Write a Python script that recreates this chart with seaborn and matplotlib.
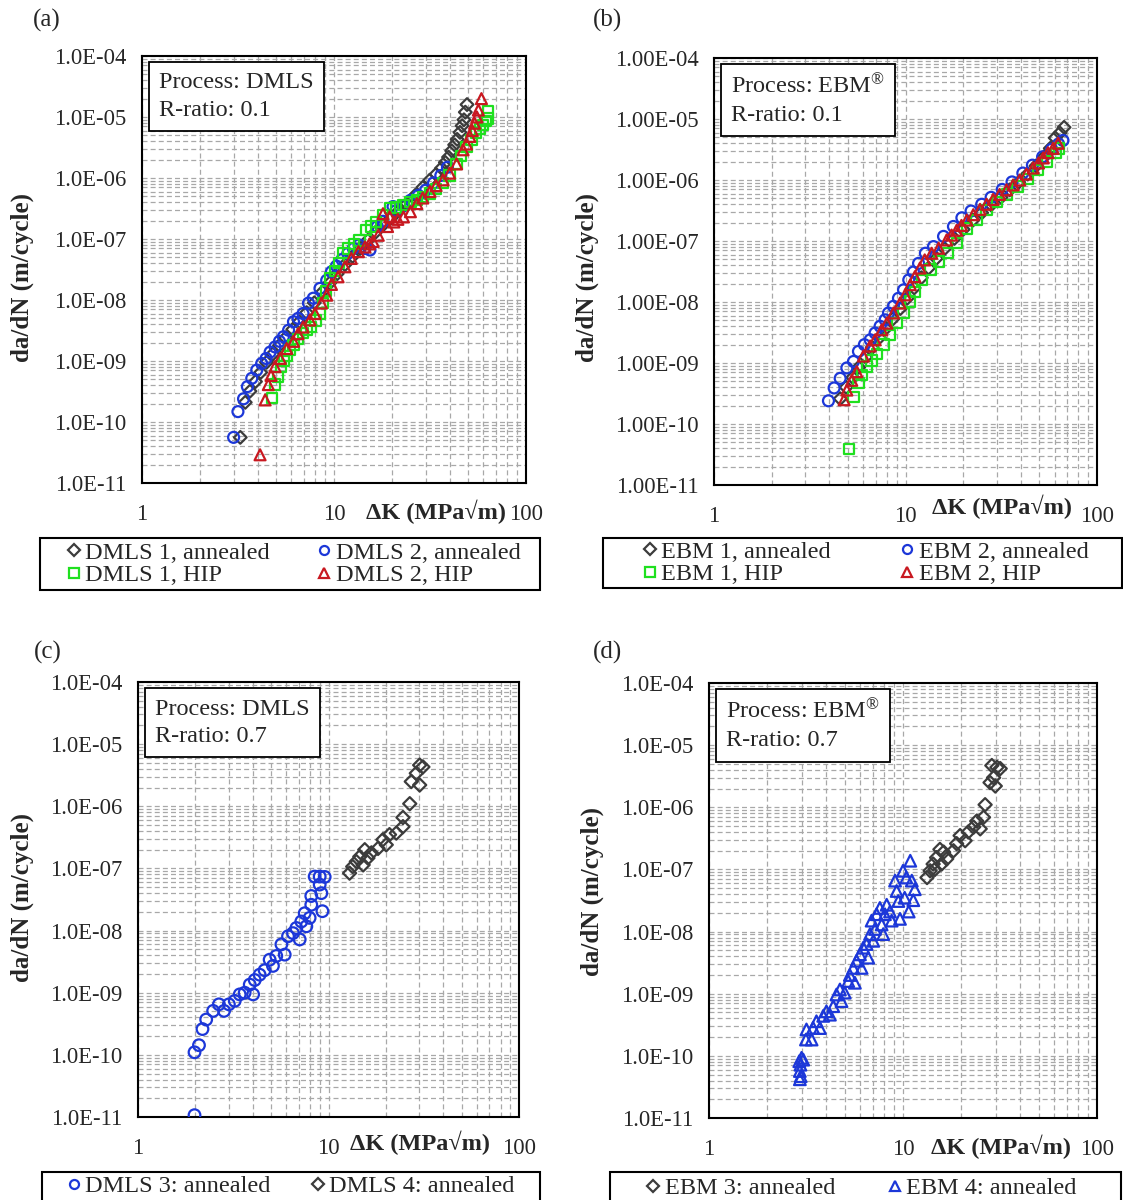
import numpy as np
import matplotlib
matplotlib.use("Agg")
import matplotlib.pyplot as plt
from matplotlib.lines import Line2D
from matplotlib.patches import Rectangle
from matplotlib.ticker import FixedLocator, FixedFormatter, LogLocator, NullFormatter
import seaborn as sns

# ---------------- data ----------------
# Panel (a): DMLS, R = 0.1
dmls1_ann_K = [3.25, 3.45, 3.65, 3.9, 4.15, 4.45, 4.8, 5.2, 5.6, 6.1, 6.6, 7.2, 7.9, 8.7, 9.5, 10.4, 11.4,
               12.5, 13.7, 15.0, 16.5, 18.0, 19.8, 21.8, 24, 26.5, 29, 31.5, 34, 36.3, 38, 39.5, 41, 42.5,
               43.8, 45.3, 46.5, 47.5, 48.3, 49.3]
dmls1_ann_da = [5.6e-11, 2.1e-10, 3.2e-10, 4.6e-10, 6.5e-10, 9.5e-10, 1.3e-9, 1.8e-9, 2.4e-9, 3.3e-9, 4.4e-9,
                6.2e-9, 9e-9, 1.35e-8, 1.9e-8, 2.7e-8, 3.8e-8, 5.2e-8, 7.0e-8, 9.5e-8, 1.3e-7, 1.7e-7, 2.2e-7,
                2.9e-7, 3.8e-7, 5.2e-7, 7e-7, 9.2e-7, 1.15e-6, 1.45e-6, 1.8e-6, 2.2e-6, 2.8e-6, 3.5e-6, 4.3e-6,
                5.6e-6, 7.2e-6, 9.0e-6, 1.2e-5, 1.6e-5]
dmls2_ann_K = [3.0, 3.16, 3.38, 3.54, 3.73, 3.96, 4.2, 4.43, 4.65, 4.93, 5.2, 5.45, 5.8, 6.15, 6.5, 6.9, 7.36,
               7.8, 8.45, 9.16, 9.7, 10.3, 11.0, 11.8, 12.6, 13.5, 14.5, 15.4, 16.8, 18.0, 20.3, 21, 23, 25,
               27.5, 30, 33, 36, 39]
dmls2_ann_da = [5.6e-11, 1.48e-10, 2.4e-10, 3.8e-10, 5.2e-10, 7.1e-10, 9.1e-10, 1.1e-9, 1.4e-9, 1.7e-9, 2.1e-9,
                2.5e-9, 3.2e-9, 4.4e-9, 5.0e-9, 6.0e-9, 8.9e-9, 1.07e-8, 1.55e-8, 2.1e-8, 2.9e-8, 3.6e-8,
                4.6e-8, 5.8e-8, 7.0e-8, 8.0e-8, 7.0e-8, 6.6e-8, 1.6e-7, 1.95e-7, 3.4e-7, 2.9e-7, 3.5e-7,
                4.3e-7, 5.2e-7, 6.3e-7, 8.3e-7, 1.1e-6, 1.5e-6]
dmls1_hip_K = [4.74, 4.93, 5.1, 5.3, 5.5, 5.67, 5.9, 6.15, 6.5, 6.9, 7.2, 7.6, 8.0, 8.46, 8.8, 9.1, 9.5, 10.1,
               10.6, 11.2, 11.9, 12.7, 13.6, 14.7, 15.6, 16.6, 18.0, 19.5, 21, 23, 25, 27, 29, 31.6, 34, 37,
               40, 43.5, 46, 49, 52, 55, 57.5, 59.6, 61.5, 63, 63.5]
dmls1_hip_da = [2.45e-10, 4.1e-10, 5.5e-10, 8.1e-10, 1.0e-9, 1.2e-9, 1.5e-9, 1.85e-9, 2.3e-9, 2.9e-9, 3.2e-9,
                3.6e-9, 4.6e-9, 6.0e-9, 9e-9, 1.4e-8, 2.3e-8, 3.0e-8, 4.0e-8, 5.9e-8, 7.0e-8, 8.2e-8, 9.5e-8,
                1.4e-7, 1.6e-7, 1.9e-7, 2.5e-7, 3.2e-7, 3.3e-7, 3.6e-7, 4.0e-7, 4.4e-7, 4.9e-7, 5.6e-7, 6.6e-7,
                8.2e-7, 1.1e-6, 1.7e-6, 2.3e-6, 3.2e-6, 4.2e-6, 5.4e-6, 6.4e-6, 7.4e-6, 8.5e-6, 9.5e-6, 1.23e-5]
dmls2_hip_K = [4.12, 4.38, 4.55, 4.7, 4.93, 5.25, 5.67, 6.15, 6.5, 6.9, 7.5, 7.96, 8.6, 9.16, 9.7, 10.5, 11.4,
               12.3, 13.4, 14.5, 15.3, 16.0, 17.0, 18.0, 19.0, 19.5, 20.5, 21.5, 23, 25, 27, 29, 31.6, 34, 37,
               40, 43.5, 47, 49, 51, 52.5, 54, 55.5, 56.5, 58.6]
dmls2_hip_da = [2.9e-11, 2.3e-10, 4.1e-10, 5.8e-10, 8.1e-10, 1.1e-9, 1.6e-9, 2.1e-9, 2.8e-9, 3.6e-9, 4.7e-9,
                6e-9, 8.9e-9, 1.2e-8, 1.8e-8, 2.4e-8, 3.5e-8, 4.8e-8, 6.2e-8, 7.4e-8, 8.3e-8, 9.1e-8, 1.15e-7,
                2.6e-7, 1.6e-7, 2.3e-7, 1.9e-7, 2.1e-7, 2.3e-7, 2.8e-7, 3.8e-7, 4.7e-7, 6e-7, 7.5e-7, 9.3e-7,
                1.2e-6, 1.7e-6, 2.9e-6, 3.6e-6, 4.8e-6, 6.0e-6, 7.9e-6, 1.0e-5, 1.3e-5, 2.0e-5]

# Panel (b): EBM, R = 0.1
ebm1_ann_K = [4.56, 4.9, 5.3, 5.7, 6.2, 6.7, 7.3, 7.9, 8.6, 9.4, 10.2, 11.1, 12.1, 13.2, 14.5, 16, 18, 20, 22.5,
              25, 28, 31.5, 35, 39, 43.5, 48, 53, 57, 60.5, 64, 67.3]
ebm1_ann_da = [2.6e-10, 4.0e-10, 5.8e-10, 8.5e-10, 1.25e-9, 1.8e-9, 2.6e-9, 3.7e-9, 5.3e-9, 7.8e-9, 1.15e-8,
               1.7e-8, 2.5e-8, 3.6e-8, 5.2e-8, 7.5e-8, 1.1e-7, 1.55e-7, 2.2e-7, 2.9e-7, 3.9e-7, 5.2e-7, 6.9e-7,
               9.2e-7, 1.25e-6, 1.7e-6, 2.4e-6, 3.3e-6, 4.9e-6, 5.9e-6, 7.3e-6]
ebm2_ann_K = [3.96, 4.24, 4.56, 4.94, 5.35, 5.68, 6.1, 6.54, 6.94, 7.37, 7.83, 8.15, 8.65, 9.19, 9.77, 10.4,
              11.0, 11.7, 12.7, 14.0, 15.8, 17.8, 19.7, 22, 25, 28, 32, 36, 41, 46, 52, 58, 63, 66.4]
ebm2_ann_da = [2.4e-10, 3.9e-10, 5.6e-10, 8.3e-10, 1.06e-9, 1.55e-9, 2.0e-9, 2.4e-9, 3.1e-9, 4.0e-9, 5.1e-9,
               6.6e-9, 8.5e-9, 1.15e-8, 1.58e-8, 2.3e-8, 3.1e-8, 4.3e-8, 6.3e-8, 8.1e-8, 1.19e-7, 1.73e-7,
               2.4e-7, 3.1e-7, 4.0e-7, 5.2e-7, 7.0e-7, 9.3e-7, 1.3e-6, 1.75e-6, 2.4e-6, 3.2e-6, 3.9e-6, 4.45e-6]
ebm1_hip_K = [5.08, 5.35, 5.68, 5.91, 6.27, 6.65, 7.07, 7.68, 8.31, 9.0, 9.77, 10.6, 11.2, 12.2, 13.5, 14.9,
              16.7, 18.5, 20.9, 23.5, 26.5, 30, 34, 38.5, 43.5, 49, 55, 61, 63.5]
ebm1_hip_da = [3.9e-11, 2.8e-10, 4.7e-10, 6.4e-10, 8.8e-10, 1.1e-9, 1.4e-9, 2.0e-9, 2.9e-9, 4.5e-9, 6.6e-9,
               1.02e-8, 1.47e-8, 2.3e-8, 3.4e-8, 4.6e-8, 6.3e-8, 9.3e-8, 1.6e-7, 2.2e-7, 3.2e-7, 4.4e-7,
               5.8e-7, 7.8e-7, 1.05e-6, 1.45e-6, 2.0e-6, 2.8e-6, 3.3e-6]
ebm2_hip_K = [4.78, 4.94, 5.24, 5.57, 6.03, 6.53, 6.94, 7.52, 7.99, 8.65, 9.36, 9.96, 10.6, 11.2, 11.9, 12.6,
              13.7, 14.9, 16.4, 17.4, 18.5, 19.6, 20.9, 22.6, 24.5, 26.5, 28.7, 31.0, 33.7, 36.5, 39.5, 42.8,
              46.4, 49.5, 52.4, 55.5, 59.0, 62.7]
ebm2_hip_da = [2.5e-10, 3.6e-10, 5.2e-10, 7.2e-10, 1.3e-9, 1.9e-9, 2.4e-9, 3.5e-9, 4.5e-9, 6.6e-9, 9.6e-9,
               1.31e-8, 1.92e-8, 2.6e-8, 3.6e-8, 4.9e-8, 6.3e-8, 7.6e-8, 1.04e-7, 1.25e-7, 1.5e-7, 1.8e-7,
               2.2e-7, 2.7e-7, 3.3e-7, 4.0e-7, 4.8e-7, 5.8e-7, 6.9e-7, 8.3e-7, 1.0e-6, 1.25e-6, 1.57e-6,
               1.9e-6, 2.3e-6, 2.8e-6, 3.3e-6, 4.0e-6]

# Panel (c): DMLS, R = 0.7
dmls3_K = [1.98, 1.98, 2.09, 2.18, 2.28, 2.48, 2.66, 2.83, 3.0, 3.22, 3.42, 3.63, 3.86, 4.02, 4.1, 4.35, 4.62,
           4.91, 5.11, 5.32, 5.66, 5.89, 6.13, 6.51, 6.78, 7.06, 7.2, 7.5, 7.65, 7.96, 8.12, 8.12, 8.46, 8.99,
           9.17, 9.29, 8.99, 9.55]
dmls3_da = [1.07e-11, 1.1e-10, 1.43e-10, 2.6e-10, 3.7e-10, 5.1e-10, 6.5e-10, 5.1e-10, 6.5e-10, 7.4e-10, 9.4e-10,
            1e-9, 1.35e-9, 9.4e-10, 1.6e-9, 1.95e-9, 2.3e-9, 3.4e-9, 2.7e-9, 3.9e-9, 6e-9, 4.1e-9, 8.1e-9,
            9.1e-9, 1.1e-8, 7.2e-9, 1.4e-8, 1.9e-8, 1.17e-8, 1.6e-8, 2.6e-8, 3.6e-8, 7.4e-8, 5.5e-8, 4e-8,
            2.05e-8, 7.4e-8, 7.3e-8]
dmls4_K = [12.9, 13.4, 14.0, 14.6, 15.2, 15.5, 16.1, 16.8, 18.2, 19.3, 20.1, 20.9, 22.7, 24.6, 24.6, 26.7, 27.2,
           28.9, 30.1, 31.3, 30.1]
dmls4_da = [8.4e-8, 1.07e-7, 1.29e-7, 1.55e-7, 1.14e-7, 2e-7, 1.47e-7, 1.78e-7, 2.1e-7, 2.9e-7, 2.4e-7, 3.5e-7,
            3.7e-7, 4.7e-7, 6.6e-7, 1.1e-6, 2.5e-6, 3.4e-6, 2.2e-6, 4.3e-6, 4.6e-6]

# Panel (d): EBM, R = 0.7
ebm3_K = [13.3, 13.8, 14.3, 14.9, 15.5, 14.6, 15.8, 16.2, 16.8, 18.2, 18.9, 19.7, 20.9, 21.7, 23.1, 24, 25, 26,
          26.5, 28.1, 29.3, 29.9, 30.5, 31.7, 28.7]
ebm3_da = [7.4e-8, 9.5e-8, 1.22e-7, 1.55e-7, 2.1e-7, 1.0e-7, 1.22e-7, 1.9e-7, 1.48e-7, 2e-7, 2.6e-7, 3.5e-7,
           2.9e-7, 4e-7, 4.8e-7, 6e-7, 4.5e-7, 6.9e-7, 1.1e-6, 2.5e-6, 3e-6, 2.2e-6, 4.4e-6, 4.2e-6, 4.7e-6]
ebm4_K = [2.94, 2.94, 2.96, 3.0, 2.92, 3.06, 2.97, 3.16, 3.18, 3.38, 3.44, 3.58, 3.73, 3.88, 4.03, 4.2, 4.37,
          4.54, 4.73, 4.82, 5.01, 5.22, 5.32, 5.54, 5.65, 5.76, 6.0, 6.12, 6.24, 6.49, 6.62, 6.76, 6.89, 7.03,
          7.17, 7.31, 7.6, 7.76, 7.91, 8.07, 8.24, 8.57, 8.74, 9.1, 9.27, 9.46, 9.65, 10.0, 10.2, 10.4, 10.9,
          11.1, 11.3, 11.5, 10.7]
ebm4_da = [4.2e-11, 5.7e-11, 7.2e-11, 9.3e-11, 8.2e-11, 8.7e-11, 4.7e-11, 1.83e-10, 2.66e-10, 1.83e-10, 2.83e-10,
           3.6e-10, 2.8e-10, 4.4e-10, 5.2e-10, 4.6e-10, 6.3e-10, 9.7e-10, 1.17e-9, 7.6e-10, 1.04e-9, 1.6e-9,
           2.0e-9, 2.6e-9, 1.5e-9, 3.4e-9, 4.3e-9, 2.6e-9, 5.5e-9, 6.3e-9, 3.8e-9, 9.1e-9, 1.5e-8, 7.1e-9,
           1.1e-8, 1.9e-8, 2.4e-8, 1.3e-8, 9.1e-9, 1.9e-8, 2.7e-8, 2.1e-8, 1.5e-8, 6.6e-8, 4.5e-8, 3.1e-8,
           1.6e-8, 9.5e-8, 3.5e-8, 7.4e-8, 1.38e-7, 6.6e-8, 3.2e-8, 4.8e-8, 2.1e-8]

x_ticks = [1, 10, 100]
x_tick_labels = ["1", "10", "100"]
y_ticks = [1e-11, 1e-10, 1e-9, 1e-8, 1e-7, 1e-6, 1e-5, 1e-4]
y_labels_short = ["1.0E-11", "1.0E-10", "1.0E-09", "1.0E-08", "1.0E-07", "1.0E-06", "1.0E-05", "1.0E-04"]
y_labels_long = ["1.00E-11", "1.00E-10", "1.00E-09", "1.00E-08", "1.00E-07", "1.00E-06", "1.00E-05", "1.00E-04"]

# ---------------- styling ----------------
sns.set_style("white")
plt.rcParams["font.family"] = ["Liberation Serif", "DejaVu Serif"]
plt.rcParams["mathtext.fontset"] = "custom"
plt.rcParams["mathtext.rm"] = "Liberation Serif"
plt.rcParams["mathtext.it"] = "Liberation Serif"

C_BLACK = "#3c3c3c"
C_BLUE = "#1c37d8"
C_GREEN = "#1fe01f"
C_RED = "#c81820"

W, H = 1123, 1200
fig = plt.figure(figsize=(W / 100, H / 100), dpi=100)


def add_ax(l, t, r, b):
    return fig.add_axes([l / W, 1 - b / H, (r - l) / W, (b - t) / H])


TICK_FS = 16.3
LBL_FS = 18
XLBL_FS = 17.5
LEG_FS = 17.5


def style_axes(ax, ylabels):
    ax.set_xscale("log")
    ax.set_yscale("log")
    ax.set_xlim(1, 100)
    ax.set_ylim(1e-11, 1e-4)
    ax.xaxis.set_major_locator(FixedLocator(x_ticks))
    ax.xaxis.set_major_formatter(FixedFormatter(x_tick_labels))
    ax.yaxis.set_major_locator(FixedLocator(y_ticks))
    ax.yaxis.set_major_formatter(FixedFormatter(ylabels))
    ax.xaxis.set_minor_locator(LogLocator(base=10, subs=np.arange(2, 10), numticks=50))
    ax.yaxis.set_minor_locator(LogLocator(base=10, subs=np.arange(2, 10), numticks=50))
    ax.xaxis.set_minor_formatter(NullFormatter())
    ax.yaxis.set_minor_formatter(NullFormatter())
    ax.grid(True, which="both", linestyle=(0, (4, 2.5)), color="#a8a8a8", linewidth=0.9)
    ax.set_axisbelow(True)
    ax.tick_params(which="major", direction="out", length=8, width=1.3, labelsize=TICK_FS, pad=3,
                   color="black")
    ax.tick_params(which="minor", direction="in", length=5, width=1.0, color="black")
    ax.tick_params(axis="x", which="major", pad=7)
    for s in ax.spines.values():
        s.set_linewidth(1.5)
        s.set_color("black")
    ax.set_xlabel("")
    ax.set_ylabel("")


def scatter(ax, K, da, color, marker, size=62):
    sns.scatterplot(x=K, y=da, ax=ax, marker=marker, s=size, facecolor="none", edgecolor=color,
                    linewidth=1.6, legend=False, zorder=3)


def info_box(ax, txt):
    ax.text(0.044, 0.962, txt, transform=ax.transAxes, ha="left", va="top", fontsize=LEG_FS,
            linespacing=1.42, zorder=5,
            bbox=dict(boxstyle="square,pad=0.42", facecolor="white", edgecolor="black", linewidth=1.3))


def legend_box(l, t, r, b, handles, labels, cx, cy, ncol, colspace):
    fig.patches.append(Rectangle((l / W, 1 - b / H), (r - l) / W, (b - t) / H, transform=fig.transFigure,
                                 facecolor="white", edgecolor="black", linewidth=1.5))
    fig.legend(handles, labels, loc="center", bbox_to_anchor=(cx / W, 1 - cy / H), ncol=ncol,
               frameon=False, fontsize=LEG_FS, handlelength=0.5, handletextpad=0.22,
               columnspacing=colspace, labelspacing=0.02, borderpad=0.0)


def h(marker, color):
    return Line2D([], [], linestyle="none", marker=marker, markersize=6.5, markerfacecolor="none",
                  markeredgecolor=color, markeredgewidth=1.6)


# ---------------- panel (a) ----------------
ax_a = add_ax(142, 56, 526, 483)
style_axes(ax_a, y_labels_short)
scatter(ax_a, dmls1_ann_K, dmls1_ann_da, C_BLACK, "D", 42)
scatter(ax_a, dmls2_ann_K, dmls2_ann_da, C_BLUE, "o")
scatter(ax_a, dmls1_hip_K, dmls1_hip_da, C_GREEN, "s", 55)
scatter(ax_a, dmls2_hip_K, dmls2_hip_da, C_RED, "^")
info_box(ax_a, "Process: DMLS\nR-ratio: 0.1")

# ---------------- panel (b) ----------------
ax_b = add_ax(714, 58, 1097, 485)
style_axes(ax_b, y_labels_long)
scatter(ax_b, ebm1_ann_K, ebm1_ann_da, C_BLACK, "D", 42)
scatter(ax_b, ebm2_ann_K, ebm2_ann_da, C_BLUE, "o")
scatter(ax_b, ebm1_hip_K, ebm1_hip_da, C_GREEN, "s", 55)
scatter(ax_b, ebm2_hip_K, ebm2_hip_da, C_RED, "^")
info_box(ax_b, "Process: EBM$^{\\mathrm{®}}$\nR-ratio: 0.1")

# ---------------- panel (c) ----------------
ax_c = add_ax(138, 682, 519, 1117)
style_axes(ax_c, y_labels_short)
scatter(ax_c, dmls3_K, dmls3_da, C_BLUE, "o", 70)
scatter(ax_c, dmls4_K, dmls4_da, C_BLACK, "D", 45)
info_box(ax_c, "Process: DMLS\nR-ratio: 0.7")

# ---------------- panel (d) ----------------
ax_d = add_ax(709, 683, 1097, 1118)
style_axes(ax_d, y_labels_short)
scatter(ax_d, ebm3_K, ebm3_da, C_BLACK, "D", 45)
scatter(ax_d, ebm4_K, ebm4_da, C_BLUE, "^", 70)
info_box(ax_d, "Process: EBM$^{\\mathrm{®}}$\nR-ratio: 0.7")

# ---------------- labels ----------------
for (x, y, t) in [(47, 20, "(a)"), (607, 20, "(b)"), (48, 652, "(c)"), (608, 652, "(d)")]:
    fig.text(x / W, 1 - y / H, t, ha="center", va="center", fontsize=18)

ylab = "da/dN (m/cycle)"
for (x, y) in [(22, 278), (587, 278), (22, 898), (592, 892)]:
    fig.text(x / W, 1 - y / H, ylab, rotation=90, ha="center", va="center", fontsize=LBL_FS,
             fontweight="bold")

xlab = "ΔK (MPa√m)"
for (x, y) in [(436, 512), (1002, 507), (420, 1143), (1001, 1147)]:
    fig.text(x / W, 1 - y / H, xlab, ha="center", va="center", fontsize=XLBL_FS, fontweight="bold")

# ---------------- legends ----------------
legend_box(40, 538, 540, 590,
           [h("D", C_BLACK), h("s", C_GREEN), h("o", C_BLUE), h("^", C_RED)],
           ["DMLS 1, annealed", "DMLS 1, HIP", "DMLS 2, annealed", "DMLS 2, HIP"],
           294, 564, 2, 2.0)
legend_box(603, 538, 1122, 588,
           [h("D", C_BLACK), h("s", C_GREEN), h("o", C_BLUE), h("^", C_RED)],
           ["EBM 1, annealed", "EBM 1, HIP", "EBM 2, annealed", "EBM 2, HIP"],
           866, 563, 2, 2.9)
legend_box(42, 1172, 540, 1203,
           [h("o", C_BLUE), h("D", C_BLACK)],
           ["DMLS 3: annealed", "DMLS 4: annealed"],
           291, 1186, 2, 1.7)
legend_box(610, 1172, 1121, 1203,
           [h("D", C_BLACK), h("^", C_BLUE)],
           ["EBM 3: annealed", "EBM 4: annealed"],
           862, 1188, 2, 2.2)

fig.savefig("out.png", dpi=100)
